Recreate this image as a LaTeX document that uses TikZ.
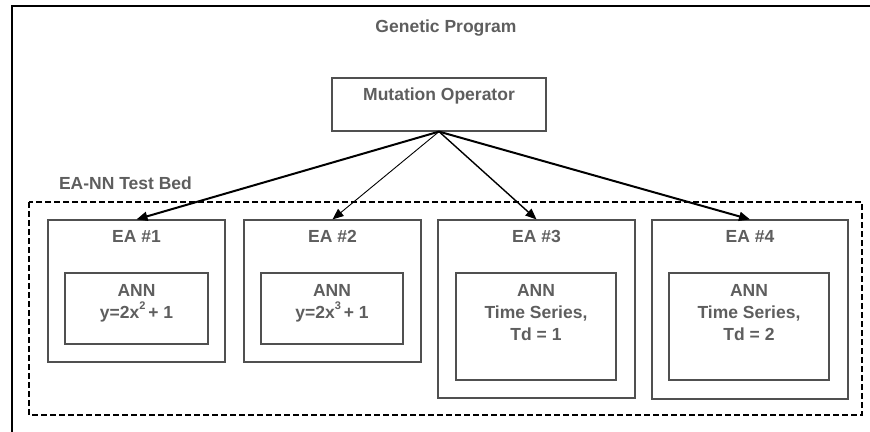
\documentclass[tikz,border=0pt]{standalone}
\usepackage{fontspec}
\setmainfont{Liberation Sans}
\usetikzlibrary{positioning,arrows.meta}
\definecolor{txtgray}{HTML}{5E5E5E}
\definecolor{boxgray}{HTML}{505050}
\newcommand{\supnum}[1]{\raisebox{0.55em}{\fontsize{11}{11}\selectfont #1}}
\tikzset{
  lbl/.style={font=\bfseries\fontsize{17.5}{22}\selectfont, text=txtgray, inner sep=0pt, align=center},
  box/.style={draw=boxgray, line width=1.2pt, inner sep=0pt},
  feed/.style={-{Triangle[length=11pt,width=9pt]}, black},
}
\begin{document}
\begin{tikzpicture}[x=1pt,y=-1pt]
 \useasboundingbox (0,0) rectangle (870,431);
 \clip (0,0) rectangle (870,431);
 % outer frame of the genetic program
 \draw[line width=2pt] (11.5,5.5) rectangle (900,460);
 \node[lbl] (gp) at (446,28) {Genetic Program};
 % mutation operator
 \node[box, minimum width=214pt, minimum height=53pt] (mut) at (439,104.5) {};
 \node[lbl, below=10pt of mut.north] (mutlbl) {Mutation Operator};
 % test bed
 \node[lbl] (bed) at (125.5,183) {EA-NN Test Bed};
 \draw[dashed, dash pattern=on 6pt off 3pt, line width=1.6pt] (29,202) rectangle (862,415);
 % the four EAs
 \node[box, minimum width=177pt, minimum height=142pt] (ea1) at (136.5,291) {};
 \node[box, minimum width=177pt, minimum height=142pt] (ea2) at (332.5,291) {};
 \node[box, minimum width=197pt, minimum height=178pt] (ea3) at (536.5,309) {};
 \node[box, minimum width=196pt, minimum height=179pt] (ea4) at (750,309.5) {};
 \foreach \i in {1,...,4}
   \node[lbl, below=10.5pt of ea\i.north] (ealbl\i) {EA \#\i};
 % the ANNs
 \node[box, minimum width=143pt, minimum height=71pt] (ann1) at (136.5,308.5) {};
 \node[box, minimum width=142pt, minimum height=71pt] (ann2) at (332,308.5) {};
 \node[box, minimum width=160pt, minimum height=107pt] (ann3) at (536,326.5) {};
 \node[box, minimum width=160pt, minimum height=107pt] (ann4) at (749,326.5) {};
 \node[lbl, below=12pt of ann1.north] (annlbl1) {ANN\\y=2x\supnum{2}\,+ 1};
 \node[lbl, below=12pt of ann2.north] (annlbl2) {ANN\\y=2x\supnum{3}\,+ 1};
 \node[lbl, below=12pt of ann3.north] (annlbl3) {ANN\\Time Series,\\Td = 1};
 \node[lbl, below=12pt of ann4.north] (annlbl4) {ANN\\Time Series,\\Td = 2};
 % arrows from the operator
 \draw[feed, line width=2pt] (mut.south) -- (ea1.north);
 \draw[feed, line width=0.9pt] (mut.south) -- (ea2.north);
 \draw[feed, line width=1.4pt] (mut.south) -- (ea3.north);
 \draw[feed, line width=2pt] (mut.south) -- (ea4.north);
\end{tikzpicture}
\end{document}
